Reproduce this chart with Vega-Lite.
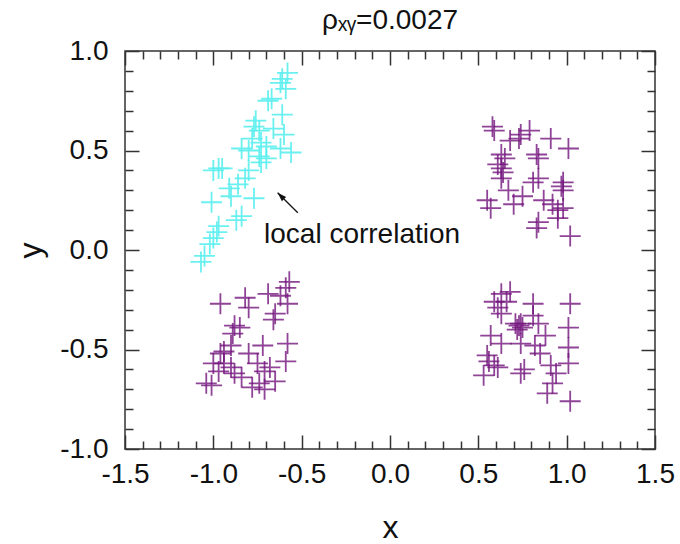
{
  "$schema": "https://vega.github.io/schema/vega-lite/v6.json",
  "width": 530,
  "height": 398,
  "padding": {"left": 14, "top": 7, "right": 26, "bottom": 5},
  "background": "white",
  "title": {"text": "ρₓᵧ=0.0027", "fontSize": 28, "font": "Liberation Sans", "fontWeight": "normal", "color": "#111", "offset": 2},
  "config": {
    "view": {"stroke": "#333", "strokeWidth": 1.5},
    "axis": {"tickColor": "#333", "tickWidth": 1.5, "labelFont": "Liberation Sans", "titleFont": "Liberation Sans", "labelColor": "#111", "titleColor": "#111", "titleFontWeight": "normal", "grid": false, "domain": false}
  },
  "datasets": {
    "cyan": [
      {"x": -0.58, "y": 0.89}, {"x": -0.61, "y": 0.86}, {"x": -0.62, "y": 0.84}, {"x": -0.59, "y": 0.81},
      {"x": -0.69, "y": 0.75}, {"x": -0.61, "y": 0.68}, {"x": -0.76, "y": 0.65}, {"x": -0.77, "y": 0.62},
      {"x": -0.74, "y": 0.60}, {"x": -0.66, "y": 0.61}, {"x": -0.60, "y": 0.58}, {"x": -0.78, "y": 0.56},
      {"x": -0.73, "y": 0.54}, {"x": -0.70, "y": 0.52}, {"x": -0.84, "y": 0.51}, {"x": -0.80, "y": 0.50},
      {"x": -0.62, "y": 0.51}, {"x": -0.56, "y": 0.49}, {"x": -0.74, "y": 0.47}, {"x": -0.70, "y": 0.46},
      {"x": -0.73, "y": 0.44}, {"x": -0.97, "y": 0.41}, {"x": -1.00, "y": 0.40}, {"x": -0.95, "y": 0.41},
      {"x": -0.80, "y": 0.40}, {"x": -0.82, "y": 0.36}, {"x": -0.86, "y": 0.33}, {"x": -0.91, "y": 0.31},
      {"x": -0.77, "y": 0.26}, {"x": -0.90, "y": 0.27}, {"x": -1.01, "y": 0.24}, {"x": -0.84, "y": 0.17},
      {"x": -0.87, "y": 0.15}, {"x": -0.97, "y": 0.12}, {"x": -0.98, "y": 0.09}, {"x": -1.00, "y": 0.06},
      {"x": -1.02, "y": 0.03}, {"x": -1.05, "y": -0.03}, {"x": -1.07, "y": -0.06}, {"x": -0.67, "y": 0.76}
    ],
    "purple": [
      {"x": 0.58, "y": 0.62}, {"x": 0.59, "y": 0.60}, {"x": 0.74, "y": 0.58}, {"x": 0.73, "y": 0.56},
      {"x": 0.91, "y": 0.56}, {"x": 1.01, "y": 0.51}, {"x": 0.63, "y": 0.48}, {"x": 0.65, "y": 0.46},
      {"x": 0.83, "y": 0.48}, {"x": 0.84, "y": 0.46}, {"x": 0.61, "y": 0.43}, {"x": 0.63, "y": 0.41},
      {"x": 0.64, "y": 0.39}, {"x": 0.63, "y": 0.36}, {"x": 0.81, "y": 0.34}, {"x": 0.97, "y": 0.32},
      {"x": 0.98, "y": 0.34}, {"x": 0.98, "y": 0.30}, {"x": 0.84, "y": 0.36}, {"x": 0.75, "y": 0.27},
      {"x": 0.55, "y": 0.25}, {"x": 0.57, "y": 0.21}, {"x": 0.70, "y": 0.23}, {"x": 0.87, "y": 0.25},
      {"x": 0.92, "y": 0.23}, {"x": 0.95, "y": 0.20}, {"x": 0.98, "y": 0.21}, {"x": 0.84, "y": 0.14},
      {"x": 0.83, "y": 0.11}, {"x": 0.95, "y": 0.16}, {"x": 1.02, "y": 0.07}, {"x": 0.67, "y": 0.30},
      {"x": 0.68, "y": 0.55}, {"x": 0.79, "y": 0.60},
      {"x": -0.57, "y": -0.16}, {"x": -0.59, "y": -0.19}, {"x": -0.69, "y": -0.22}, {"x": -0.62, "y": -0.23},
      {"x": -0.58, "y": -0.27}, {"x": -0.96, "y": -0.27}, {"x": -0.80, "y": -0.29}, {"x": -0.65, "y": -0.32},
      {"x": -0.66, "y": -0.35}, {"x": -0.88, "y": -0.38}, {"x": -0.85, "y": -0.39}, {"x": -0.89, "y": -0.42},
      {"x": -0.94, "y": -0.51}, {"x": -0.96, "y": -0.52}, {"x": -0.80, "y": -0.52}, {"x": -0.72, "y": -0.48},
      {"x": -0.58, "y": -0.47}, {"x": -0.59, "y": -0.56}, {"x": -1.00, "y": -0.57}, {"x": -0.94, "y": -0.57},
      {"x": -0.90, "y": -0.59}, {"x": -0.75, "y": -0.57}, {"x": -0.68, "y": -0.59}, {"x": -0.97, "y": -0.61},
      {"x": -0.88, "y": -0.62}, {"x": -0.71, "y": -0.61}, {"x": -0.84, "y": -0.64}, {"x": -1.04, "y": -0.67},
      {"x": -1.01, "y": -0.68}, {"x": -0.74, "y": -0.67}, {"x": -0.78, "y": -0.69}, {"x": -0.71, "y": -0.70},
      {"x": -0.65, "y": -0.66}, {"x": -0.90, "y": -0.48}, {"x": -0.82, "y": -0.24},
      {"x": 0.68, "y": -0.21}, {"x": 0.59, "y": -0.26}, {"x": 0.61, "y": -0.29}, {"x": 0.63, "y": -0.32},
      {"x": 0.81, "y": -0.27}, {"x": 1.02, "y": -0.27}, {"x": 0.71, "y": -0.37}, {"x": 0.73, "y": -0.38},
      {"x": 0.74, "y": -0.37}, {"x": 0.72, "y": -0.40}, {"x": 0.75, "y": -0.39}, {"x": 0.81, "y": -0.33},
      {"x": 0.84, "y": -0.37}, {"x": 1.01, "y": -0.39}, {"x": 0.57, "y": -0.43}, {"x": 0.63, "y": -0.47},
      {"x": 0.74, "y": -0.47}, {"x": 0.82, "y": -0.48}, {"x": 0.85, "y": -0.52}, {"x": 1.01, "y": -0.49},
      {"x": 0.55, "y": -0.53}, {"x": 0.56, "y": -0.56}, {"x": 0.59, "y": -0.58}, {"x": 0.61, "y": -0.59},
      {"x": 0.53, "y": -0.63}, {"x": 0.74, "y": -0.62}, {"x": 0.76, "y": -0.60}, {"x": 0.91, "y": -0.58},
      {"x": 1.01, "y": -0.57}, {"x": 0.94, "y": -0.62}, {"x": 0.92, "y": -0.67}, {"x": 0.89, "y": -0.72},
      {"x": 1.02, "y": -0.76}, {"x": 0.63, "y": -0.22}, {"x": 0.66, "y": -0.26}, {"x": 0.88, "y": -0.43}
    ],
    "arrow": [{"x": -0.522, "y": 0.187, "x2": -0.636, "y2": 0.288}],
    "note": [{"x": -0.713, "y": 0.037, "label": "local correlation"}]
  },
  "layer": [
    {
      "data": {"name": "cyan"},
      "mark": {"type": "point", "shape": "M-1,0L1,0M0,-1L0,1", "filled": false, "size": 440, "strokeWidth": 1.8, "color": "#5cefef", "opacity": 0.9},
      "encoding": {
        "x": {"field": "x", "type": "quantitative", "scale": {"domain": [-1.5, 1.5], "nice": false, "zero": false},
          "axis": {"orient": "bottom", "values": [-1.5, -1, -0.5, 0, 0.5, 1, 1.5], "ticks": false, "labelPadding": 11, "labelFontSize": 28, "labelExpr": "replace(format(datum.value, '.1f'), '\u2212', '-')", "title": "x", "titleFontSize": 32, "titlePadding": 24, "labelFlush": false}},
        "y": {"field": "y", "type": "quantitative", "scale": {"domain": [-1, 1], "nice": false, "zero": false},
          "axis": {"orient": "left", "values": [-1, -0.5, 0, 0.5, 1], "ticks": false, "labelPadding": 17, "labelFontSize": 28, "labelExpr": "replace(format(datum.value, '.1f'), '\u2212', '-')", "title": "y", "titleFontSize": 32, "titlePadding": 12, "labelFlush": false}}
      }
    },
    {
      "data": {"name": "purple"},
      "mark": {"type": "point", "shape": "M-1,0L1,0M0,-1L0,1", "filled": false, "size": 440, "strokeWidth": 1.8, "color": "#74167e", "opacity": 0.8},
      "encoding": {
        "x": {"field": "x", "type": "quantitative",
          "axis": {"orient": "bottom", "values": [-1.5, -1, -0.5, 0, 0.5, 1, 1.5], "tickSize": -14, "labels": false, "title": null}},
        "y": {"field": "y", "type": "quantitative",
          "axis": {"orient": "left", "values": [-1, -0.5, 0, 0.5, 1], "tickSize": -14, "labels": false, "title": null}}
      }
    },
    {
      "data": {"name": "arrow"},
      "mark": {"type": "rule", "color": "#111", "strokeWidth": 1.3},
      "encoding": {
        "x": {"field": "x", "type": "quantitative",
          "axis": {"orient": "bottom", "values": [-1.4, -1.3, -1.2, -1.1, -0.9, -0.8, -0.7, -0.6, -0.4, -0.3, -0.2, -0.1, 0.1, 0.2, 0.3, 0.4, 0.6, 0.7, 0.8, 0.9, 1.1, 1.2, 1.3, 1.4], "tickSize": -8, "labels": false, "title": null}},
        "y": {"field": "y", "type": "quantitative",
          "axis": {"orient": "left", "values": [-0.9, -0.8, -0.7, -0.6, -0.4, -0.3, -0.2, -0.1, 0.1, 0.2, 0.3, 0.4, 0.6, 0.7, 0.8, 0.9], "tickSize": -8, "labels": false, "title": null}},
        "x2": {"field": "x2"},
        "y2": {"field": "y2"}
      }
    },
    {
      "data": {"name": "arrow"},
      "mark": {"type": "point", "shape": "M0,0L-0.6,1.8L0.6,1.8Z", "filled": true, "size": 100, "angle": -45, "color": "#111", "opacity": 1},
      "encoding": {
        "x": {"field": "x2", "type": "quantitative",
          "axis": {"orient": "top", "values": [-1.5, -1, -0.5, 0, 0.5, 1, 1.5], "tickSize": -14, "labels": false, "title": null}},
        "y": {"field": "y2", "type": "quantitative",
          "axis": {"orient": "right", "values": [-1, -0.5, 0, 0.5, 1], "tickSize": -14, "labels": false, "title": null}}
      }
    },
    {
      "data": {"name": "note"},
      "mark": {"type": "text", "align": "left", "baseline": "alphabetic", "fontSize": 28, "font": "Liberation Sans", "color": "#111"},
      "encoding": {
        "x": {"field": "x", "type": "quantitative",
          "axis": {"orient": "top", "values": [-1.4, -1.3, -1.2, -1.1, -0.9, -0.8, -0.7, -0.6, -0.4, -0.3, -0.2, -0.1, 0.1, 0.2, 0.3, 0.4, 0.6, 0.7, 0.8, 0.9, 1.1, 1.2, 1.3, 1.4], "tickSize": -8, "labels": false, "title": null}},
        "y": {"field": "y", "type": "quantitative",
          "axis": {"orient": "right", "values": [-0.9, -0.8, -0.7, -0.6, -0.4, -0.3, -0.2, -0.1, 0.1, 0.2, 0.3, 0.4, 0.6, 0.7, 0.8, 0.9], "tickSize": -8, "labels": false, "title": null}},
        "text": {"field": "label"}
      }
    }
  ],
  "resolve": {"axis": {"x": "independent", "y": "independent"}}
}
